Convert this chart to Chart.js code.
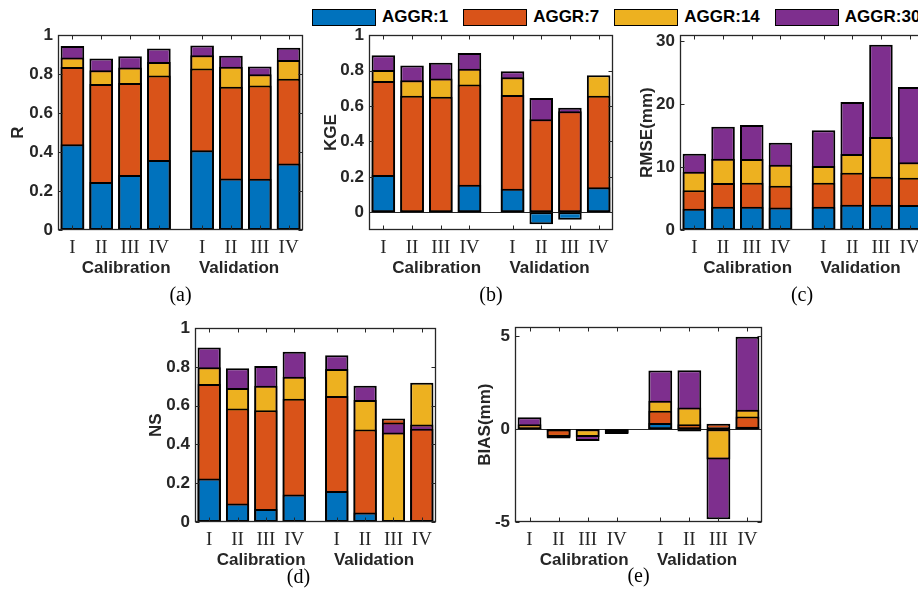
<!DOCTYPE html>
<html>
<head>
<meta charset="utf-8">
<script src="https://cdn.jsdelivr.net/npm/chart.js@4.4.1/dist/chart.umd.min.js"></script>
<style>
    html, body { margin: 0; padding: 0; background: #fff; }
    body { width: 918px; height: 597px; overflow: hidden; position: relative; }
    .panel { position: absolute; }
    #legend {
        position: absolute; left: 312px; top: 7px;
        display: flex; align-items: center; white-space: nowrap;
        font: bold 17px "Liberation Sans", Arial, sans-serif; color: #000;
    }
    .lg-item { display: flex; align-items: center; margin-right: 15px; }
    .lg-box { width: 62px; height: 15px; border: 1.5px solid #000; margin-right: 6px; }
</style>
</head>
<body>
<div id="legend"></div>
<canvas id="chartR" class="panel"></canvas>
<canvas id="chartKGE" class="panel"></canvas>
<canvas id="chartRMSE" class="panel"></canvas>
<canvas id="chartNS" class="panel"></canvas>
<canvas id="chartBIAS" class="panel"></canvas>
<script>
// ============ Data ============
const xTickLabels = ['I', 'II', 'III', 'IV', 'I', 'II', 'III', 'IV'];
const xPositions = [1, 2, 3, 4, 5.5, 6.5, 7.5, 8.5];
const groupLabel = 'Calibration      Validation';
const seriesNames = ['AGGR:1', 'AGGR:7', 'AGGR:14', 'AGGR:30'];
const seriesColors = ['#0072BD', '#D95319', '#EDB120', '#7E2F8E'];

const rAggr1  = [0.440, 0.246, 0.282, 0.359, 0.409, 0.265, 0.263, 0.342];
const rAggr7  = [0.837, 0.750, 0.754, 0.793, 0.829, 0.735, 0.742, 0.776];
const rAggr14 = [0.886, 0.820, 0.834, 0.862, 0.897, 0.838, 0.800, 0.873];
const rAggr30 = [0.945, 0.880, 0.892, 0.932, 0.947, 0.894, 0.839, 0.935];

const kgeAggr1  = [0.210, 0.000, 0.000, 0.156, 0.133, -0.068, -0.042, 0.141];
const kgeAggr7  = [0.742, 0.658, 0.652, 0.722, 0.663, 0.526, 0.571, 0.658];
const kgeAggr14 = [0.804, 0.746, 0.756, 0.810, 0.763, 0.000, 0.000, 0.774];
const kgeAggr30 = [0.887, 0.829, 0.844, 0.900, 0.797, 0.646, 0.590, 0.000];

const rmseAggr1  = [3.40, 3.71, 3.71, 3.60, 3.71, 4.03, 4.03, 3.98];
const rmseAggr7  = [6.32, 7.48, 7.53, 7.05, 7.53, 9.12, 8.49, 8.33];
const rmseAggr14 = [9.28, 11.35, 11.30, 10.40, 10.19, 12.10, 14.80, 10.78];
const rmseAggr30 = [12.15, 16.45, 16.72, 13.90, 15.87, 20.38, 29.50, 22.77];

const nsAggr1  = [0.224, 0.095, 0.067, 0.142, 0.160, 0.049, 0.005, 0.005];
const nsAggr7  = [0.712, 0.586, 0.577, 0.636, 0.650, 0.477, 0.534, 0.481];
const nsAggr14 = [0.798, 0.691, 0.703, 0.749, 0.789, 0.629, 0.462, 0.718];
const nsAggr30 = [0.901, 0.793, 0.805, 0.879, 0.860, 0.703, 0.514, 0.503];

const biasAggr1  = [0.02, -0.12, -0.01, -0.20, 0.34, -0.12, 0.02, 0.14];
const biasAggr7  = [0.05, -0.40, -0.02, -0.26, 0.99, 0.27, 0.30, 0.68];
const biasAggr14 = [0.27, -0.46, -0.42, -0.01, 1.53, 1.17, -1.63, 1.05];
const biasAggr30 = [0.65, -0.50, -0.63, 0.00, 3.16, 3.18, -4.85, 4.99];

const unitTicks = [0, 0.2, 0.4, 0.6, 0.8, 1];
const rmseTicks = [0, 10, 20, 30];
const biasTicks = [-5, 0, 5];

// ============ Panels (layout) ============
const Y_AXIS_W = 58;
const X_AXIS_H = 80;
const PAD_TOP = 15;
const PAD_RIGHT = 8;

const panels = [
    { id: 'chartR', title: 'R', caption: '(a)', series: [rAggr1, rAggr7, rAggr14, rAggr30],
      yMin: 0, yMax: 1, yTicks: unitTicks, plot: { left: 58, top: 35, right: 303, bottom: 230 },
      titlePad: 8, captionDx: 0, captionDy: 66 },
    { id: 'chartKGE', title: 'KGE', caption: '(b)', series: [kgeAggr1, kgeAggr7, kgeAggr14, kgeAggr30],
      yMin: -0.1, yMax: 1, yTicks: unitTicks, plot: { left: 369, top: 35, right: 613, bottom: 230 },
      titlePad: 10, captionDx: 0, captionDy: 66 },
    { id: 'chartRMSE', title: 'RMSE(mm)', caption: '(c)', series: [rmseAggr1, rmseAggr7, rmseAggr14, rmseAggr30],
      yMin: 0, yMax: 31, yTicks: rmseTicks, plot: { left: 680, top: 35, right: 924, bottom: 230 },
      titlePad: 15, captionDx: 0, captionDy: 66 },
    { id: 'chartNS', title: 'NS', caption: '(d)', series: [nsAggr1, nsAggr7, nsAggr14, nsAggr30],
      yMin: 0, yMax: 1, yTicks: unitTicks, plot: { left: 195, top: 328, right: 436, bottom: 522 },
      titlePad: 9, captionDx: -17, captionDy: 56 },
    { id: 'chartBIAS', title: 'BIAS(mm)', caption: '(e)', series: [biasAggr1, biasAggr7, biasAggr14, biasAggr30],
      yMin: -5, yMax: 5.5, yTicks: biasTicks, plot: { left: 515, top: 327, right: 762, bottom: 522 },
      titlePad: 18, captionDx: 0, captionDy: 55 }
];

// ============ Legend ============
function buildLegend() {
    const el = document.getElementById('legend');
    seriesNames.forEach((name, k) => {
        const item = document.createElement('div');
        item.className = 'lg-item';
        item.innerHTML = `<span class="lg-box" style="background:${seriesColors[k]}"></span><span>${name}</span>`;
        el.appendChild(item);
    });
}

// ============ Bars ============
// MATLAB overlays the bars: at each position the largest magnitude sits behind,
// so sort the series per category and build one dataset per depth layer.
function buildLayers(series) {
    const layers = series.map(() => ({ data: [], backgroundColor: [] }));
    xPositions.forEach((x, i) => {
        const order = series.map((_, k) => k)
            .sort((a, b) => Math.abs(series[a][i]) - Math.abs(series[b][i]));
        order.forEach((k, layer) => {
            layers[layer].data.push({ x, y: series[k][i] });
            layers[layer].backgroundColor.push(seriesColors[k]);
        });
    });
    return layers.map(l => ({
        ...l,
        borderColor: '#000',
        borderWidth: 2,
        borderSkipped: false,
        grouped: false,
        categoryPercentage: 1,
        barPercentage: 0.82
    }));
}

// ============ Axes box, inner ticks, caption ============
const matlabAxes = {
    id: 'matlabAxes',
    beforeDatasetsDraw(chart) {
        const { ctx, chartArea: a, scales: { y } } = chart;
        if (y.min >= 0) return;
        const y0 = Math.round(y.getPixelForValue(0)) + 0.5;
        ctx.save();
        ctx.strokeStyle = '#262626';
        ctx.lineWidth = 1;
        ctx.beginPath();
        ctx.moveTo(a.left, y0);
        ctx.lineTo(a.right, y0);
        ctx.stroke();
        ctx.restore();
    },
    afterDatasetsDraw(chart, args, opts) {
        const { ctx, chartArea: a, scales: { x, y } } = chart;
        const L = Math.round(a.left) + 0.5, R = Math.round(a.right) - 0.5;
        const T = Math.round(a.top) + 0.5, B = Math.round(a.bottom) - 0.5;
        const tick = 4;
        ctx.save();
        ctx.strokeStyle = '#262626';
        ctx.lineWidth = 1;
        ctx.beginPath();
        y.ticks.forEach((t, i) => {
            const py = Math.round(y.getPixelForTick(i)) + 0.5;
            ctx.moveTo(L, py); ctx.lineTo(L + tick, py);
            ctx.moveTo(R, py); ctx.lineTo(R - tick, py);
        });
        x.ticks.forEach((t, i) => {
            const px = Math.round(x.getPixelForTick(i)) + 0.5;
            ctx.moveTo(px, B); ctx.lineTo(px, B - tick);
            ctx.moveTo(px, T); ctx.lineTo(px, T + tick);
        });
        ctx.stroke();
        ctx.lineWidth = 1.3;
        ctx.strokeRect(L, T, R - L, B - T);
        ctx.restore();

        ctx.save();
        ctx.fillStyle = '#000';
        ctx.font = '20px "Liberation Serif", "Times New Roman", serif';
        ctx.textAlign = 'center';
        ctx.textBaseline = 'middle';
        ctx.fillText(opts.caption, (a.left + a.right) / 2 + opts.captionDx, a.bottom + opts.captionDy);
        ctx.restore();
    }
};

// ============ Charts ============
const sansBold = (size) => ({ family: '"Liberation Sans", Arial, sans-serif', size, weight: 'bold' });

function makePanel(p) {
    const canvas = document.getElementById(p.id);
    const w = (p.plot.right - p.plot.left) + Y_AXIS_W + PAD_RIGHT;
    const h = (p.plot.bottom - p.plot.top) + PAD_TOP + X_AXIS_H;
    canvas.width = w;
    canvas.height = h;
    canvas.style.left = (p.plot.left - Y_AXIS_W) + 'px';
    canvas.style.top = (p.plot.top - PAD_TOP) + 'px';

    return new Chart(canvas, {
        type: 'bar',
        data: { datasets: buildLayers(p.series) },
        options: {
            responsive: false,
            animation: false,
            layout: { padding: { top: PAD_TOP, right: PAD_RIGHT, bottom: 0, left: 0 } },
            plugins: {
                legend: { display: false },
                tooltip: { enabled: false },
                matlabAxes: { caption: p.caption, captionDx: p.captionDx, captionDy: p.captionDy }
            },
            scales: {
                x: {
                    type: 'linear',
                    min: 0.5,
                    max: 9,
                    offset: false,
                    grid: { display: false, drawTicks: false },
                    border: { display: false },
                    afterBuildTicks: s => { s.ticks = xPositions.map(v => ({ value: v })); },
                    afterFit: s => { s.height = X_AXIS_H; },
                    ticks: {
                        autoSkip: false,
                        maxRotation: 0,
                        padding: 7,
                        color: '#262626',
                        font: { family: '"Liberation Serif", "Times New Roman", serif', size: 19 },
                        callback: (v, i) => xTickLabels[i]
                    },
                    title: {
                        display: true,
                        text: groupLabel,
                        color: '#262626',
                        font: sansBold(17),
                        padding: { top: 0, bottom: 31 }
                    }
                },
                y: {
                    min: p.yMin,
                    max: p.yMax,
                    grid: { display: false, drawTicks: false },
                    border: { display: false },
                    afterBuildTicks: s => { s.ticks = p.yTicks.map(v => ({ value: v })); },
                    afterFit: s => { s.width = Y_AXIS_W; },
                    ticks: {
                        padding: 5,
                        color: '#262626',
                        font: sansBold(17),
                        callback: v => String(Math.round(v * 10) / 10)
                    },
                    title: {
                        display: true,
                        text: p.title,
                        color: '#262626',
                        font: sansBold(17),
                        padding: { top: p.titlePad, bottom: 0 }
                    }
                }
            }
        },
        plugins: [matlabAxes]
    });
}

// ============ Initialize ============
buildLegend();
panels.forEach(makePanel);
</script>
</body>
</html>
